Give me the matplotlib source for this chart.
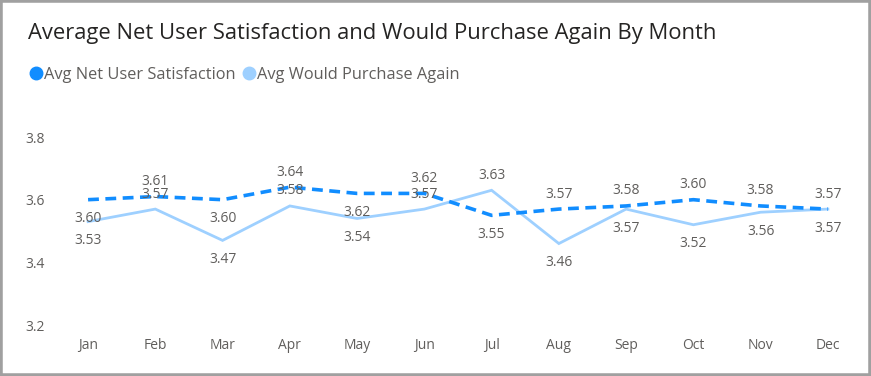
import numpy as np
import matplotlib as mpl
import matplotlib.pyplot as plt
from matplotlib.patches import Rectangle
from matplotlib.lines import Line2D

# -----------------------------------------------------------------------------
# Data
# -----------------------------------------------------------------------------
months = ["Jan", "Feb", "Mar", "Apr", "May", "Jun",
          "Jul", "Aug", "Sep", "Oct", "Nov", "Dec"]
net_satisfaction = [3.60, 3.61, 3.60, 3.64, 3.62, 3.62,
                    3.55, 3.57, 3.58, 3.60, 3.58, 3.57]
purchase_again = [3.53, 3.57, 3.47, 3.58, 3.54, 3.57,
                  3.63, 3.46, 3.57, 3.52, 3.56, 3.57]
yticks = [3.2, 3.4, 3.6, 3.8]

# label side per point: +1 above, -1 below (as placed in the reference)
net_side = [-1, 1, -1, 1, -1, 1, -1, 1, 1, 1, 1, 1]
purchase_side = [-1, 1, -1, 1, -1, 1, 1, -1, -1, -1, -1, -1]

# -----------------------------------------------------------------------------
# Style
# -----------------------------------------------------------------------------
mpl.rcParams.update({
    "font.family": ["Open Sans", "DejaVu Sans"],
})
DARK = "#118DFF"
LIGHT = "#9ED0FF"
TXT = "#605E5C"

fig = plt.figure(figsize=(8.71, 3.76), dpi=100)
ax = fig.add_axes([0.0625, 0.1356, 0.9266, 0.5])

x = np.arange(len(months))
ax.plot(x, purchase_again, color=LIGHT, lw=2.0, solid_joinstyle="miter")
ax.plot(x, net_satisfaction, color=DARK, lw=2.6, ls=(0, (3.0, 1.8)))

for xi, v, s in zip(x, net_satisfaction, net_side):
    ax.annotate(f"{v:.2f}", (xi, v), xytext=(0, 15 if s > 0 else -19),
                textcoords="offset pixels", ha="center", va="center",
                fontsize=10, color=TXT)
for xi, v, s in zip(x, purchase_again, purchase_side):
    ax.annotate(f"{v:.2f}", (xi, v), xytext=(0, 15 if s > 0 else -19),
                textcoords="offset pixels", ha="center", va="center",
                fontsize=10, color=TXT)

ax.set_xlim(-0.5, len(months) - 0.5)
ax.set_ylim(3.2, 3.8)
ax.set_xticks(x)
ax.set_xticklabels(months)
ax.set_yticks(yticks)
ax.set_yticklabels([f"{t:.1f}" for t in yticks])
ax.tick_params(length=0, labelsize=10, colors=TXT)
ax.tick_params(axis="x", pad=9)
ax.tick_params(axis="y", pad=7)
for sp in ax.spines.values():
    sp.set_visible(False)

fig.text(28 / 871, 1 - 33 / 376, "Average Net User Satisfaction and Would Purchase Again By Month",
         fontsize=15.8, color="#252423", ha="left", va="center")

handles = [
    Line2D([], [], marker="o", ls="", color=DARK, markersize=9),
    Line2D([], [], marker="o", ls="", color=LIGHT, markersize=9),
]
fig.legend(handles, ["Avg Net User Satisfaction", "Avg Would Purchase Again"],
           loc="center left", bbox_to_anchor=(13 / 871, 1 - 75 / 376), ncol=2,
           frameon=False, fontsize=11.8, labelcolor=TXT, handletextpad=0.0,
           columnspacing=0.3, handlelength=1.0)

fig.add_artist(Rectangle((0, 0), 1, 1, transform=fig.transFigure, fill=False,
                         edgecolor="#A0A0A0", lw=4))

fig.savefig("out.png", dpi=100)
